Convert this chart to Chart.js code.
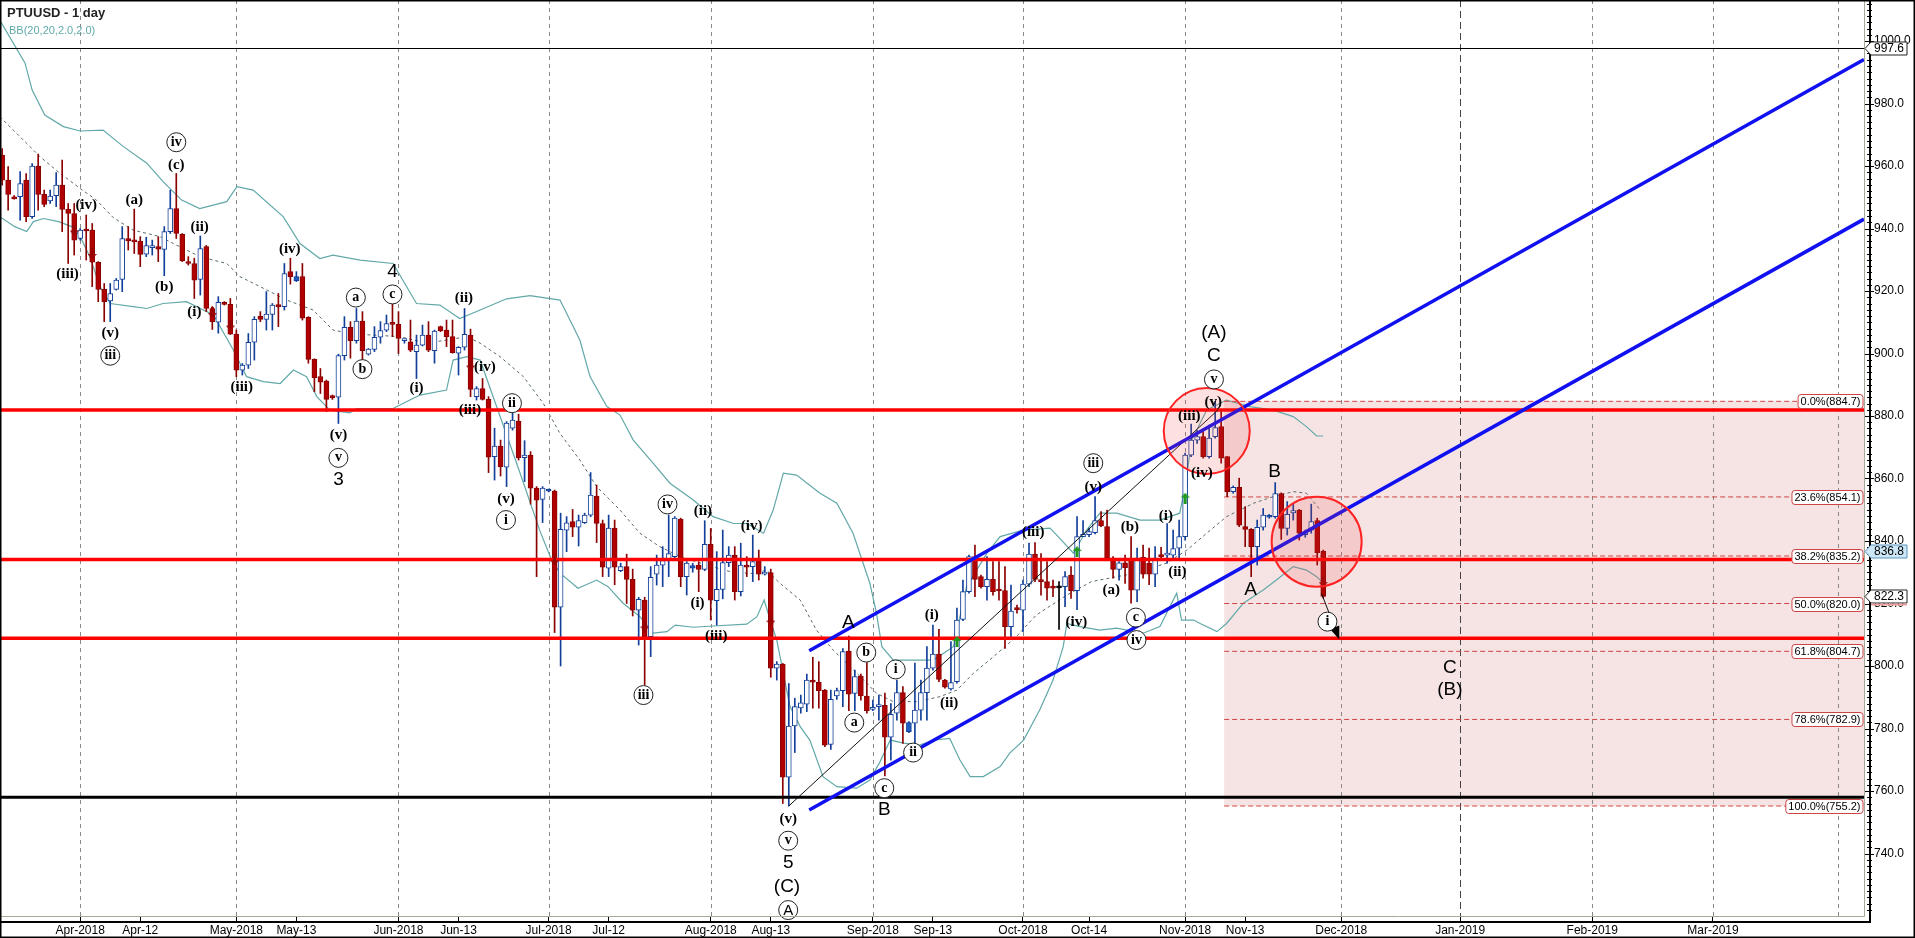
<!DOCTYPE html>
<html><head><meta charset="utf-8">
<script src="https://cdn.jsdelivr.net/npm/chart.js@4.4.1/dist/chart.umd.min.js"></script>
<style>
html,body{margin:0;padding:0;background:#fff;}
#wrap{position:relative;width:1915px;height:938px;overflow:hidden;}
#c{position:absolute;left:0;top:0;}
#title{position:absolute;left:7px;top:5px;font:bold 13px "Liberation Sans",Arial,sans-serif;color:#222;white-space:nowrap;}
#bb{position:absolute;left:9px;top:24px;font:11px "Liberation Sans",Arial,sans-serif;color:#5fa9a9;white-space:nowrap;}
</style></head><body>
<div id="wrap"><canvas id="c" width="1915" height="938"></canvas>
<div id="title">PTUUSD - 1 day</div><div id="bb">BB(20,20,2.0,2.0)</div></div>
<script>
// ---------- DATA ----------
const firstBar = -13; // bar index of first candle (index 0 = 1 Apr 2018)
const opens = [
963.5,955.5,950.1,950.2,955.5,943.8,960.0,950.9,948.8,950.5,
953.9,946.1,944.8,936.8,939.5,939.5,929.2,920.5,916.8,920.5,
923.7,936.8,936.0,936.0,931.8,933.9,934.2,933.3,939.0,946.4,
938.1,929.4,928.8,923.7,934.2,914.4,910.0,916.4,915.7,906.2,
894.7,896.3,903.6,912.0,910.9,912.5,915.5,915.0,926.2,923.3,
924.6,911.6,898.1,892.6,891.2,886.2,886.0,899.3,908.4,904.1,
910.4,899.8,901.3,905.2,907.5,909.6,909.3,904.1,903.7,900.6,
902.7,905.9,900.9,908.6,907.5,905.4,900.1,902.0,905.9,886.2,
888.8,885.3,867.0,870.4,863.6,876.1,878.4,866.7,867.5,856.9,
853.3,856.0,856.0,818.8,843.5,846.2,844.4,845.9,848.3,854.4,
845.6,831.3,844.1,830.5,831.8,827.7,817.9,821.1,809.4,829.4,
832.3,833.7,835.0,847.0,828.6,831.3,832.3,830.9,838.9,820.9,
824.5,833.1,835.5,823.8,832.3,831.8,833.9,829.4,829.9,799.3,
800.6,764.4,780.8,786.6,787.8,795.5,794.8,792.3,774.9,790.4,
792.1,804.8,791.2,796.8,790.4,786.1,787.0,787.4,777.2,784.9,
791.5,779.0,781.7,785.9,791.5,799.3,803.8,795.5,792.7,795.0,
814.9,823.8,835.0,828.6,825.4,827.7,824.3,824.1,812.6,818.7,
817.9,826.2,835.8,827.5,827.0,825.2,825.2,825.4,829.1,824.1,
841.4,842.0,842.7,846.5,844.6,834.5,830.9,833.0,833.9,824.3,
834.8,832.9,829.4,835.5,835.5,835.5,837.7,841.4,867.5,872.3,
873.4,867.0,873.4,876.6,867.0,855.8,857.2,844.6,843.7,838.2,
844.4,847.6,847.8,855.2,844.0,849.0,849.9,842.0,843.5,846.5,
836.8];
const highs = [
965.6,959.8,950.5,958.2,957.6,960.8,963.8,952.3,952.3,957.9,
961.9,948.0,948.0,940.0,944.3,941.6,929.4,922.4,922.4,924.0,
940.6,940.6,946.2,937.4,937.2,936.3,937.4,940.6,952.3,957.6,
938.4,931.0,930.5,937.6,934.6,915.0,918.2,916.6,917.6,907.5,
896.8,906.4,911.8,913.4,919.8,916.0,919.2,928.8,930.5,926.2,
928.8,911.8,898.3,895.2,891.5,886.7,899.8,911.8,910.2,914.4,
913.4,901.6,908.6,910.2,912.3,916.0,913.4,904.6,910.7,905.9,
909.1,910.2,907.5,908.8,910.7,910.7,902.2,914.4,907.8,889.4,
892.0,886.2,876.1,872.3,878.2,880.9,880.6,872.1,868.6,857.4,
857.4,856.6,856.3,848.9,847.8,850.1,848.3,848.9,861.9,857.9,
846.7,848.3,846.7,832.9,835.8,831.0,822.0,822.0,831.8,835.5,
838.2,848.3,847.8,847.3,833.4,832.9,833.4,846.5,844.0,836.6,
843.5,838.2,838.2,839.3,835.0,841.9,837.1,831.8,831.0,801.4,
800.8,794.4,789.7,790.7,797.4,802.8,801.4,792.5,792.3,792.9,
805.6,809.6,798.7,797.4,801.1,789.1,790.7,791.3,788.0,795.5,
793.4,782.2,800.9,795.5,806.2,813.1,811.7,795.7,807.8,818.5,
827.5,835.5,838.7,829.1,835.0,833.4,833.4,831.8,825.9,819.5,
827.5,839.3,839.5,836.0,833.4,827.5,827.0,830.2,831.8,847.8,
846.5,844.1,854.2,849.4,849.9,835.0,833.4,835.5,841.4,837.7,
838.7,837.7,838.2,838.0,845.6,843.5,846.7,868.1,877.4,875.3,
875.0,877.1,884.7,881.9,867.0,857.6,860.1,851.0,844.0,846.7,
850.4,848.5,858.7,855.4,852.6,851.8,850.1,843.5,851.8,847.3,
837.1];
const lows = [
953.9,945.9,949.4,942.7,942.2,943.2,945.9,947.0,948.0,947.0,
939.0,928.8,931.5,936.3,929.9,921.4,916.6,910.2,910.2,920.3,
919.8,933.1,932.0,927.8,931.0,931.5,929.4,924.9,938.4,936.8,
929.4,928.3,917.6,918.7,913.4,907.7,906.5,915.5,906.1,892.6,
893.1,895.2,897.9,910.2,907.5,907.5,908.6,913.9,922.2,923.0,
910.7,896.9,887.8,887.2,881.4,885.3,877.6,897.9,898.5,903.3,
897.9,899.5,900.6,903.3,907.0,905.4,900.0,903.3,900.6,892.0,
902.4,900.6,896.9,907.0,902.2,900.1,893.1,901.1,886.2,885.1,
885.1,861.9,859.5,860.8,857.4,875.5,865.9,859.0,851.8,828.6,
845.9,855.7,810.7,800.0,836.6,841.4,838.4,845.6,847.8,839.5,
828.6,828.6,826.0,830.2,820.0,816.0,806.7,793.9,803.0,825.9,
825.4,828.6,834.5,825.4,822.7,830.0,823.8,830.5,814.7,813.1,
821.5,831.8,821.1,822.4,828.6,827.0,827.5,829.1,796.4,795.5,
756.0,755.2,772.3,784.9,785.4,786.5,786.5,774.2,773.3,789.3,
787.0,785.7,785.7,789.1,784.9,785.7,782.7,764.8,769.9,782.7,
775.2,778.7,775.2,782.7,782.7,798.7,795.0,792.9,792.3,794.5,
814.5,823.3,822.2,824.9,821.1,822.7,821.1,805.6,808.9,816.9,
811.0,825.4,827.0,822.7,821.1,822.2,811.7,819.0,821.6,818.0,
841.4,841.4,842.3,844.6,834.0,828.1,827.5,826.4,820.1,820.6,
828.1,826.0,825.4,834.5,832.9,834.5,834.5,840.3,867.0,871.2,
866.5,866.5,872.9,864.9,854.2,855.3,844.6,838.2,828.6,832.3,
843.5,847.3,847.3,840.5,841.9,846.7,840.3,841.2,842.5,832.3,
821.7];
const closes = [
955.5,950.9,949.5,954.4,943.8,960.0,950.9,947.7,950.4,953.9,
946.1,944.8,936.3,939.5,939.2,929.2,920.5,916.6,919.2,923.5,
936.8,936.0,935.7,931.7,934.5,934.2,933.4,939.0,946.4,938.4,
929.7,928.8,923.5,933.6,914.4,910.2,916.4,915.7,906.2,894.7,
896.3,903.6,910.9,910.9,912.6,915.5,915.0,925.6,924.6,924.6,
911.3,898.1,892.3,890.8,885.3,885.9,899.3,908.4,904.1,910.4,
900.9,901.4,905.2,907.3,909.6,909.3,904.8,904.4,901.1,902.7,
905.9,901.1,907.2,907.2,905.4,900.3,902.0,906.1,888.5,888.8,
885.3,866.8,870.4,863.8,877.7,878.7,866.7,867.5,856.9,853.1,
856.9,856.3,818.8,843.7,845.8,844.4,846.5,848.3,854.7,845.6,
831.6,844.1,831.6,831.8,827.7,817.9,821.3,809.4,828.4,832.3,
833.7,836.0,847.3,828.6,832.9,832.1,830.9,838.9,821.1,824.5,
833.1,835.5,823.8,832.3,831.6,833.4,829.4,829.9,799.3,800.6,
764.4,780.8,787.0,788.2,795.5,794.8,792.1,774.7,789.3,792.1,
804.6,791.0,796.6,790.4,785.7,786.7,787.6,777.2,784.5,791.5,
781.7,781.9,785.9,791.5,799.3,803.8,795.7,793.2,794.7,814.7,
823.8,835.0,827.7,825.4,827.7,823.8,824.0,812.6,817.6,818.0,
826.2,835.8,827.7,827.0,824.9,824.9,825.0,828.6,824.1,841.4,
842.1,843.0,846.5,844.8,834.5,830.9,833.0,831.5,824.3,834.5,
829.4,829.4,834.5,835.0,836.0,837.6,841.4,867.5,872.3,873.4,
867.0,872.9,876.3,866.5,855.8,857.2,845.1,843.7,838.2,844.4,
848.3,848.0,855.2,844.0,848.5,849.7,842.5,842.7,846.2,836.3,
822.3];
const solidBlueBars = [36, 78, 102, 138, 198];
const dojiBars = [163];

// Bollinger bands (bar index, value)
const bbUpIdx = [-13.4,-9.2,-8.0,-5.9,-2.8,0.0,3.8,7.2,11.1,13.8,16.9,19.9,24.4,26.1,28.8,33.8,36.6,39.9,42.1,46.6,52.1,56.0,59.9,63.2,66.6,71.0,74.9,79.9,83.2,84.9,87.7,89.9,92.1,95.4,98.2,102.1,105.4,108.8,111.0,113.8,115.4,117.1,119.3,123.2,126.0,128.7,131.5,132.6,133.5,135.4,142.1,145.4,147.6,151.0,153.2,157.0,161.5,163.4,165.4,167.6,169.8,172.6,176.5,179.8,183.1,184.0,185.1,187.6,190.9,194.8,198.7,202.0,204.2,205.9,207.0];
const bbUpVal = [1006.7,993,984.3,976.3,972.6,971.2,971.5,966.2,960.9,955,949.1,946.4,948.6,953.4,952.3,943.8,935.2,930.4,931.5,929.9,928.8,916.0,915.5,911.2,913.9,917.5,918.5,917.1,904.3,892.6,883,880.3,872.3,864.9,858.5,853.1,847.8,845.6,845.6,842.5,849.9,861.7,861.1,855.3,852.1,842.5,826.5,816.9,806.2,801.9,801.9,806.2,825.4,836.1,841.4,843.5,844.1,840.3,836.1,843.5,848.9,848.9,846.7,846.7,848.9,857.4,872.3,881.9,885.1,883,881.9,879.8,876.6,873.6,873.6];
const bbLoIdx = [-13.4,-10.9,-8.9,-7.8,-6.1,-3.6,-1.4,0.0,1.6,3.3,5.0,8.8,11.1,13.8,17.7,22.2,25.5,27.7,30.5,33.3,35.5,37.7,39.4,41.6,44.9,46.0,52.1,54.9,56.6,61.0,62.1,64.4,66.6,69.9,73.2,76.6,78.5,79.9,82.9,86.0,87.9,90.4,93.2,95.4,97.7,99.1,102.1,105.4,111.0,112.7,113.9,114.9,116.0,117.1,118.2,119.9,121.5,123.7,126.0,129.3,131.5,133.2,134.9,137.1,139.8,142.1,144.8,146.5,148.2,150.4,153.2,154.8,157.1,159.8,162.0,163.7,164.3,166.5,169.8,172.6,177.0,179.8,182.6,183.4,185.4,186.5,189.3,190.9,193.7,197.0,199.2,202.0,204.2,205.9,207.0];
const bbLoVal = [943.8,940.6,939.0,942.2,943.2,942.2,940.6,937.4,931,921.4,916.0,915.0,914.4,916,916.6,912.3,901.1,892.6,891.0,890.4,894.7,892.6,886.2,881.9,881.0,882.4,882.4,885.1,886.7,888.3,897.9,899.0,897.9,880,862,843,833.9,829.7,824.9,827.5,825.4,820.1,815.8,810.5,811,813.1,812.4,812.8,813.4,815.8,821.1,814.7,808.3,797.6,787,780.6,776.3,764.6,761.4,760.9,763.5,769.4,776.3,775.3,774.7,776.3,776.8,769.9,764.6,764.6,767.8,772.1,776.3,786,795.5,806.2,813.6,812.6,811.5,812.1,810.5,812.6,823.3,814.7,814.7,813.6,811,813.6,820.1,824.3,827.5,831.8,830.7,828.6,826.5];
const bbMidIdx = [-13.4,-6.7,-3.4,0.0,2.7,5.5,8.8,13.3,15.5,19.9,24.4,26.6,31.1,34.4,38.8,42.1,45.5,48.8,53.2,57.7,61.0,64.4,66.6,69.9,73.8,77.1,79.9,83.2,86.0,89.9,93.2,96.5,99.9,104.3,108.8,112.1,114.3,116.5,119.9,122.6,125.4,129.9,132.6,135.4,139.3,143.2,146.0,148.7,152.1,155.9,159.2,164.3,168.4,175.4,180.9,184.3,187.6,190.9,195.4,198.7,202.0,204.2,206.5];
const bbMidVal = [975.8,963,957.7,952.8,949.1,943.5,939.5,937.4,935.2,931,928.8,924.6,920.3,917.1,913.9,907.5,906.2,905.9,905.4,903.3,904.3,905.4,903.3,899,892.6,884.1,874.4,865.9,857.4,849.9,842.5,838.2,835,832.3,829.9,829.6,830.7,826.5,821.1,811.5,805.1,796.6,791.3,788.6,788.6,790.2,792.3,797.6,803,809.4,816.3,822.7,827.0,829.6,832.9,837.1,842.5,847.8,852.1,854.2,855.8,855.3,849.9];

// x-axis ticks (bar index) and labels
const tickIdx   = [0, 10, 26, 36, 53, 63, 78, 88, 105, 115, 132, 142, 157, 168, 184, 194, 210, 229.8, 251.8, 271.9];
const tickLabel = ['Apr-2018','Apr-12','May-2018','May-13','Jun-2018','Jun-13','Jul-2018','Jul-12','Aug-2018','Aug-13','Sep-2018','Sep-13','Oct-2018','Oct-14','Nov-2018','Nov-13','Dec-2018','Jan-2019','Feb-2019','Mar-2019'];
const gridIdx   = [0, 26, 53, 78, 105, 132, 157, 184, 210, 229.8, 251.8, 271.9, 292.8];
const yearGridIdx = [229.8];

// horizontal levels
const redLevels = [881.9, 834.1, 808.9];
const blackLevel = [758.0];
const topLevel = [997.6];
const fibPct = [0.0, 23.6, 38.2, 50.0, 61.8, 78.6, 100.0];
const fibVal = [884.7, 854.1, 835.2, 820.0, 804.7, 782.9, 755.2];
const fibStartIdx = 190.5;

// channel & trend lines (bar index, value)
const chanUpper = [[121.4, 804.9], [297.05, 994.1]];
const chanLower = [[121.4, 753.9], [297.05, 943.0]];
const trendLine = [[118.0, 755.2], [189.5, 882.0]];
const arrowLine = [[206.7, 823.3], [209.5, 809.4]];

// highlight circles
const circleIdx = [187.6, 205.9];
const circleVal = [875.2, 839.8];

// signal arrows
const sigDownIdx = [-1, 2, 22, 25, 65, 79, 94, 115, 207];
const sigDownVal = [939.5, 932.0, 913.1, 909.1, 896.3, 834.0, 812.8, 814.7, 827.0];
const sigUpIdx = [146, 166, 184];
const sigUpVal = [807.8, 836.6, 853.7];

// right-axis price boxes
const priceBoxVal = [997.6, 836.8, 822.3];

// wave labels: text, bar index, value, kind (p = parenthesised, c = circled, C = circled caps, L = large)
const waveText = ['(iv)','(iii)','(a)','(b)','iv','(c)','(ii)','(i)','(v)','iii','(iii)','(iv)','(v)','v','3','a','b','4','c','(ii)','(i)','(iii)','(iv)','ii','(v)','i','iv','(ii)','(iv)','(i)','(iii)','iii','A','b','a','i','(i)','(ii)','ii','c','B','(v)','v','5','(C)','A','(iii)','iii','(v)','(iv)','(a)','(b)','c','iv','(i)','(ii)','(iii)','(iv)','(v)','v','C','(A)','B','A','i','C','(B)'];
const waveIdx  = [1.0,-2.1,9.0,14.0,16.0,16.0,19.9,19.0,5.0,5.0,26.9,34.9,43.0,43.0,43.0,45.9,47.0,52.0,52.0,63.9,56.0,64.9,67.4,71.9,70.9,70.9,97.8,103.7,111.8,102.8,105.9,93.8,127.9,130.9,128.9,135.8,141.8,144.7,138.7,133.9,133.9,117.9,117.9,117.9,117.7,117.9,158.7,168.7,168.7,165.9,171.7,174.8,175.8,175.9,180.8,182.7,184.7,186.8,188.7,188.8,188.8,188.8,198.9,194.9,207.7,228.1,228.1];
const waveVal  = [947.5,925.4,949.1,921.1,967.6,960.3,940.6,913.4,906.5,899.3,889.1,933.4,873.9,866.6,859.5,917.9,895.0,926.2,918.9,917.7,888.9,881.9,895.8,884.1,853.3,846.7,851.7,849.7,844.9,820.1,809.6,790.7,813.7,804.3,781.9,798.9,816.3,788.1,772.3,760.9,753.9,751.0,744.1,737.1,729.4,721.9,842.7,864.9,857.4,814.2,824.3,844.6,815.5,808.3,848.1,829.9,880.1,861.7,884.6,891.7,899.3,906.7,862.0,824.5,814.2,799.3,792.3];
const waveKind = ['p','p','p','p','c','p','p','p','p','c','p','p','p','c','L','c','c','L','c','p','p','p','p','c','p','c','c','p','p','p','p','c','L','c','c','c','p','p','c','c','L','p','c','L','L','C','p','c','p','p','p','p','c','c','p','p','p','p','p','c','L','L','L','L','c','L','L'];

// ---------- AXIS RANGE ----------
const xMin = -13.356, xMax = 297.05, yMin = 720, yMax = 1013.12;

// ---------- BUILD DATASETS ----------
const RED = '#b00000', RED_D = '#8a0000', BLUE = '#123f99';
const bars = opens.map((o, k) => firstBar + k);
const isUp = k => closes[k] >= opens[k];
const wickData = bars.map((b, k) => ({x: b, y: [lows[k], highs[k]]}));
const bodyData = bars.map((b, k) => ({x: b, y: [opens[k], closes[k]]}));
const pts = (ix, vals) => ix.map((v, k) => ({x: v, y: vals[k]}));
const seg = (p, color, width, dash, order) => ({
  type: 'line', data: p.map(q => ({x: q[0], y: q[1]})), borderColor: color, borderWidth: width,
  borderDash: dash || [], pointRadius: 0, order: order, tension: 0
});

function makeArrow(color, up) {
  const c = document.createElement('canvas'); c.width = 9; c.height = 11;
  const g = c.getContext('2d'); g.fillStyle = color; g.beginPath();
  if (up) { g.moveTo(4.5,0); g.lineTo(9,5); g.lineTo(6,5); g.lineTo(6,11); g.lineTo(3,11); g.lineTo(3,5); g.lineTo(0,5); }
  else { g.moveTo(4.5,11); g.lineTo(9,6); g.lineTo(6,6); g.lineTo(6,0); g.lineTo(3,0); g.lineTo(3,6); g.lineTo(0,6); }
  g.closePath(); g.fill(); return c;
}

const datasets = [
  {type:'line', data: pts(bbUpIdx, bbUpVal), borderColor:'#62a8a8', borderWidth:1.2, pointRadius:0, order:20},
  {type:'line', data: pts(bbLoIdx, bbLoVal), borderColor:'#62a8a8', borderWidth:1.2, pointRadius:0, order:20},
  {type:'line', data: pts(bbMidIdx, bbMidVal), borderColor:'#5a6b6b', borderWidth:1, borderDash:[3,3], pointRadius:0, order:20},
  ...fibVal.map(v => seg([[fibStartIdx, v], [xMax, v]], '#cf4444', 1, [5,3], 19)),
  {type:'bar', data: wickData, barThickness:1, grouped:false, minBarLength:1, order:11,
   backgroundColor: c => dojiBars.includes(bars[c.dataIndex]) ? '#000' : (isUp(c.dataIndex) ? BLUE : RED_D), borderWidth:0},
  {type:'bar', data: bodyData, barThickness:5, grouped:false, minBarLength:2, order:10, borderSkipped:false, borderWidth:1,
   backgroundColor: c => { const k = c.dataIndex; if (dojiBars.includes(bars[k])) return '#000'; if (isUp(k)) return solidBlueBars.includes(bars[k]) ? '#1f5fbf' : '#ffffff'; return RED; },
   borderColor: c => { const k = c.dataIndex; if (dojiBars.includes(bars[k])) return '#000'; return isUp(k) ? BLUE : RED_D; }},
  ...redLevels.map(v => seg([[xMin, v], [xMax, v]], '#ff0000', 3.5, [], 5)),
  ...blackLevel.map(v => seg([[xMin, v], [xMax, v]], '#000000', 3, [], 5)),
  ...topLevel.map(v => seg([[xMin, v], [xMax, v]], '#000000', 1, [], 5)),
  seg(trendLine, '#111', 1, [], 4),
  seg(chanUpper, '#1010f0', 3.5, [], 3),
  seg(chanLower, '#1010f0', 3.5, [], 3),
  seg(arrowLine, '#111', 1, [], 2),
  {type:'scatter', data: pts(sigDownIdx, sigDownVal), pointStyle: makeArrow('#9a0000', false), order:1},
  {type:'scatter', data: pts(sigUpIdx, sigUpVal), pointStyle: makeArrow('#1f9a1f', true), order:1}
];

// ---------- DECORATION PLUGIN ----------
const SERIF = '"Liberation Serif","DejaVu Serif",serif';
const SANS = '"Liberation Sans",Arial,sans-serif';
const decor = {
  id: 'decor',
  beforeDraw(chart) {
    const {ctx, width, height} = chart;
    ctx.save(); ctx.fillStyle = '#fff'; ctx.fillRect(0, 0, width, height); ctx.restore();
  },
  beforeDatasetsDraw(chart) {
    const {ctx, chartArea: a, scales: {x, y}} = chart;
    ctx.save();
    const x0 = x.getPixelForValue(fibStartIdx);
    const yT = y.getPixelForValue(fibVal[0]), yB = y.getPixelForValue(fibVal[fibVal.length - 1]);
    ctx.fillStyle = '#f6e4e4';
    ctx.fillRect(x0, yT, a.right - x0, yB - yT);
    ctx.lineWidth = 1;
    gridIdx.forEach(g => {
      const px = Math.round(x.getPixelForValue(g)) + 0.5;
      const yr = yearGridIdx.includes(g);
      ctx.strokeStyle = yr ? '#444' : '#888';
      ctx.setLineDash(yr ? [7, 4] : [4, 4]);
      ctx.beginPath(); ctx.moveTo(px, a.top); ctx.lineTo(px, a.bottom); ctx.stroke();
    });
    ctx.restore();
  },
  afterDatasetsDraw(chart) {
    const {ctx, chartArea: a, scales: {x, y}} = chart;
    ctx.save();
    // highlight circles
    const radii = [43, 45];
    circleIdx.forEach((ci, k) => {
      ctx.beginPath(); ctx.arc(x.getPixelForValue(ci), y.getPixelForValue(circleVal[k]), radii[k], 0, Math.PI * 2);
      ctx.fillStyle = 'rgba(240,70,70,0.16)'; ctx.fill();
      ctx.lineWidth = 2; ctx.strokeStyle = '#ff2424'; ctx.stroke();
    });
    // arrow head
    const ax0 = x.getPixelForValue(arrowLine[0][0]), ay0 = y.getPixelForValue(arrowLine[0][1]);
    const ax1 = x.getPixelForValue(arrowLine[1][0]), ay1 = y.getPixelForValue(arrowLine[1][1]);
    const ang = Math.atan2(ay1 - ay0, ax1 - ax0);
    ctx.fillStyle = '#000'; ctx.beginPath(); ctx.moveTo(ax1 + 3 * Math.cos(ang), ay1 + 3 * Math.sin(ang));
    ctx.lineTo(ax1 - 10 * Math.cos(ang) + 5 * Math.sin(ang), ay1 - 10 * Math.sin(ang) - 5 * Math.cos(ang));
    ctx.lineTo(ax1 - 10 * Math.cos(ang) - 5 * Math.sin(ang), ay1 - 10 * Math.sin(ang) + 5 * Math.cos(ang));
    ctx.closePath(); ctx.fill();
    // wave labels
    ctx.textAlign = 'center'; ctx.textBaseline = 'middle';
    waveText.forEach((t, k) => {
      const px = x.getPixelForValue(waveIdx[k]), py = y.getPixelForValue(waveVal[k]);
      const kind = waveKind[k];
      if (kind === 'c' || kind === 'C') {
        ctx.beginPath(); ctx.arc(px, py, 9.5, 0, Math.PI * 2);
        ctx.fillStyle = '#fff'; ctx.fill(); ctx.lineWidth = 1; ctx.strokeStyle = '#222'; ctx.stroke();
        ctx.font = kind === 'c' ? 'bold 14px ' + SERIF : '15px ' + SANS;
        ctx.fillStyle = '#000'; ctx.fillText(t, px, py + (kind === 'c' ? 0 : 1));
      } else if (kind === 'p') {
        ctx.font = 'bold 15px ' + SERIF; ctx.fillStyle = '#000'; ctx.fillText(t, px, py);
      } else {
        ctx.font = '19px ' + SANS; ctx.fillStyle = '#000'; ctx.fillText(t, px, py);
      }
    });
    // fib labels
    ctx.font = '11px ' + SANS; ctx.textAlign = 'left';
    fibVal.forEach((v, k) => {
      const txt = fibPct[k].toFixed(1) + '%(' + v.toFixed(1) + ')';
      const w = ctx.measureText(txt).width + 5;
      const py = Math.round(y.getPixelForValue(v)) + 0.5;
      const rx = a.right - 1 - w;
      ctx.beginPath(); ctx.roundRect(rx, py - 7, w, 14, 3);
      ctx.fillStyle = '#fff'; ctx.fill(); ctx.lineWidth = 1; ctx.strokeStyle = '#cc4444'; ctx.stroke();
      ctx.fillStyle = '#000'; ctx.fillText(txt, rx + 2.5, py + 0.5);
    });
    ctx.restore();
  },
  afterDraw(chart) {
    const {ctx, chartArea: a, scales: {y}, width, height} = chart;
    ctx.save();
    // plot frame
    ctx.lineWidth = 1; ctx.strokeStyle = '#a9a99a';
    ctx.beginPath(); ctx.moveTo(a.right + 0.5, 0); ctx.lineTo(a.right + 0.5, a.bottom + 0.5); ctx.lineTo(0, a.bottom + 0.5); ctx.stroke();
    ctx.strokeStyle = '#000'; ctx.lineWidth = 2;
    ctx.beginPath(); ctx.moveTo(a.right + 6, 0); ctx.lineTo(a.right + 6, a.bottom + 6); ctx.lineTo(0, a.bottom + 6); ctx.stroke();
    // y tick marks
    ctx.lineWidth = 1;
    for (let v = 722; v < yMax; v += 2) {
      const py = Math.round(y.getPixelForValue(v)) + 0.5;
      const major = v % 20 === 0;
      ctx.beginPath(); ctx.moveTo(a.right + (major ? 1 : 3), py); ctx.lineTo(a.right + (major ? 10 : 8), py); ctx.stroke();
    }
    // price boxes
    const styles = [['#fff', '#222', '997.6'], ['#cde7f6', '#5b95c0', '836.8'], ['#fff', '#222', '822.3']];
    ctx.font = '12px ' + SANS; ctx.textAlign = 'left'; ctx.textBaseline = 'middle';
    priceBoxVal.forEach((v, k) => {
      const py = Math.round(y.getPixelForValue(v)) + 0.5;
      const l = a.right + 1, r = a.right + 43;
      ctx.beginPath(); ctx.moveTo(l, py); ctx.lineTo(l + 6, py - 6.5); ctx.lineTo(r, py - 6.5); ctx.lineTo(r, py + 6.5); ctx.lineTo(l + 6, py + 6.5); ctx.closePath();
      ctx.fillStyle = styles[k][0]; ctx.fill(); ctx.lineWidth = 1; ctx.strokeStyle = styles[k][1]; ctx.stroke();
      if (k === 2) { ctx.fillStyle = '#e8a0a0'; ctx.fillRect(l + 6, py + 7, r - l - 6, 2); }
      ctx.fillStyle = '#000'; ctx.fillText(styles[k][2], l + 9, py + 0.5);
    });
    // outer border
    ctx.strokeStyle = '#000'; ctx.lineWidth = 1.5;
    ctx.strokeRect(0.75, 0.75, width - 1.5, height - 1.5);
    ctx.restore();
  }
};

// ---------- CHART ----------
new Chart(document.getElementById('c'), {
  type: 'bar',
  data: {datasets},
  options: {
    responsive: false, animation: false, devicePixelRatio: 1, events: [],
    layout: {padding: 0, autoPadding: false},
    plugins: {legend: {display: false}, tooltip: {enabled: false}, title: {display: false}},
    scales: {
      x: {
        type: 'linear', position: 'bottom', min: xMin, max: xMax, offset: false,
        grid: {display: true, drawOnChartArea: false, drawTicks: true, tickLength: 5, color: '#000', offset: false},
        border: {display: false},
        afterBuildTicks: s => { s.ticks = tickIdx.map(v => ({value: v})); },
        afterFit: s => { s.height = 22; s.paddingLeft = 0; s.paddingRight = 0; },
        ticks: {autoSkip: false, maxRotation: 0, minRotation: 0, padding: 2, color: '#000',
                font: {family: SANS, size: 12}, callback: (v, i) => tickLabel[i]}
      },
      y: {
        type: 'linear', position: 'right', min: yMin, max: yMax, beginAtZero: false,
        grid: {display: true, drawOnChartArea: false, drawTicks: false},
        border: {display: false},
        afterFit: s => { s.width = 51; s.paddingTop = 0; s.paddingBottom = 0; },
        ticks: {stepSize: 20, autoSkip: false, padding: 10, color: '#000', font: {family: SANS, size: 12},
                callback: v => (v >= 740 && v <= 1000 && Math.abs(v % 20) < 1e-6) ? v.toFixed(1) : ''}
      }
    }
  },
  plugins: [decor]
});
</script>
</body></html>
